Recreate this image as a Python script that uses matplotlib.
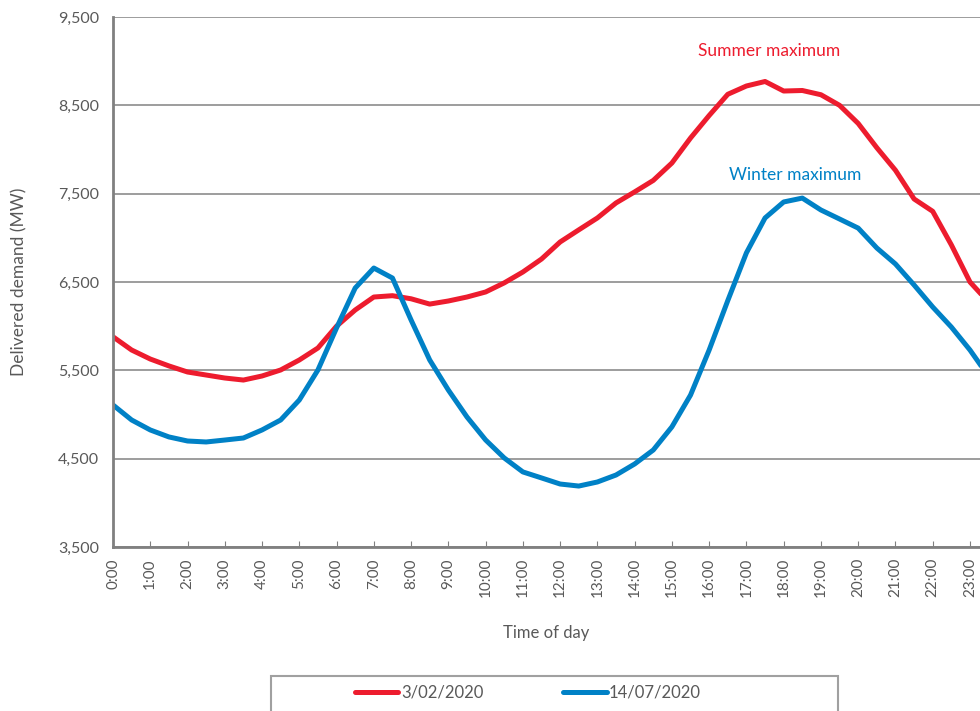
import matplotlib
matplotlib.use("Agg")
import matplotlib.pyplot as plt
from matplotlib.patches import Rectangle
import numpy as np

plt.rcParams['font.family'] = ['Lato', 'DejaVu Sans']

# half-hourly demand (MW)
hours = np.arange(48) * 0.5
summer = [5880, 5730, 5628, 5550, 5481, 5447, 5413, 5390, 5436, 5504,
          5617, 5753, 6000, 6183, 6330, 6345, 6310, 6250, 6285, 6330,
          6387, 6490, 6613, 6760, 6953, 7090, 7225, 7395, 7520, 7650,
          7847, 8130, 8385, 8625, 8719, 8770, 8662, 8668, 8620, 8500,
          8295, 8020, 7765, 7440, 7300, 6920, 6500, 6270]
winter = [5108, 4938, 4825, 4746, 4700, 4689, 4711, 4734, 4825, 4938,
          5164, 5504, 5980, 6432, 6658, 6545, 6070, 5617, 5277, 4972,
          4712, 4508, 4350, 4282, 4213, 4190, 4236, 4315, 4440, 4598,
          4860, 5220, 5730, 6290, 6830, 7225, 7406, 7450, 7315, 7213,
          7110, 6885, 6704, 6466, 6217, 5990, 5730, 5430]
tick_labels = ["%d:00" % h for h in range(24)]

red = "#ED1C2E"
blue = "#0081C6"
grey = "#595959"

fig = plt.figure(figsize=(9.8, 7.11), dpi=100)
ax = fig.add_axes([113/980, 1-547/711, 1-113/980, (547-17)/711])

ax.plot(hours, summer, color=red, lw=3.6, label="3/02/2020", solid_capstyle="round")
ax.plot(hours, winter, color=blue, lw=3.6, label="14/07/2020", solid_capstyle="round")

ax.set_xlim(0, (980-113)/37.26)
ax.set_ylim(3500, 9500)
ax.set_yticks(np.arange(3500, 9501, 1000))
ax.set_yticklabels(["{:,}".format(v) for v in range(3500, 9501, 1000)])
ax.set_xticks(np.arange(24))
ax.set_xticklabels(tick_labels, rotation=90)
ax.yaxis.grid(True, color="#8c8c8c", lw=1.2)
ax.set_axisbelow(True)

for s in ["top", "right"]:
    ax.spines[s].set_visible(False)
ax.spines["left"].set_color("#808080")
ax.spines["left"].set_linewidth(2)
ax.spines["bottom"].set_color("#808080")
ax.spines["bottom"].set_linewidth(2)
ax.tick_params(axis="x", direction="in", length=4, color="#808080", colors=grey,
               labelsize=11, pad=8)
ax.tick_params(axis="y", length=0, colors=grey, labelsize=11.5, pad=10)

ax.set_ylabel("Delivered demand (MW)", color=grey, fontsize=12.5, labelpad=22)
ax.set_xlabel("Time of day", color=grey, fontsize=12, labelpad=20)

ax.text(17.6, 9060, "Summer maximum", color=red, fontsize=12.5, ha="center")
ax.text(18.3, 7650, "Winter maximum", color=blue, fontsize=12.5, ha="center")

# legend frame (cut off at the bottom, as in the reference)
fig.patches.append(Rectangle((271/980, -5/711), (838-271)/980, (711-676+5)/711,
                             transform=fig.transFigure, fill=False,
                             edgecolor="#a0a0a0", lw=1.5))
leg = fig.legend(loc="center left", bbox_to_anchor=(355/980, 1-693/711),
                 ncol=2, frameon=False, fontsize=12,
                 handlelength=2.6, handletextpad=0.15, columnspacing=4.8,
                 borderaxespad=0, borderpad=0)
for t in leg.get_texts():
    t.set_color(grey)

fig.savefig("out.png", dpi=100)
